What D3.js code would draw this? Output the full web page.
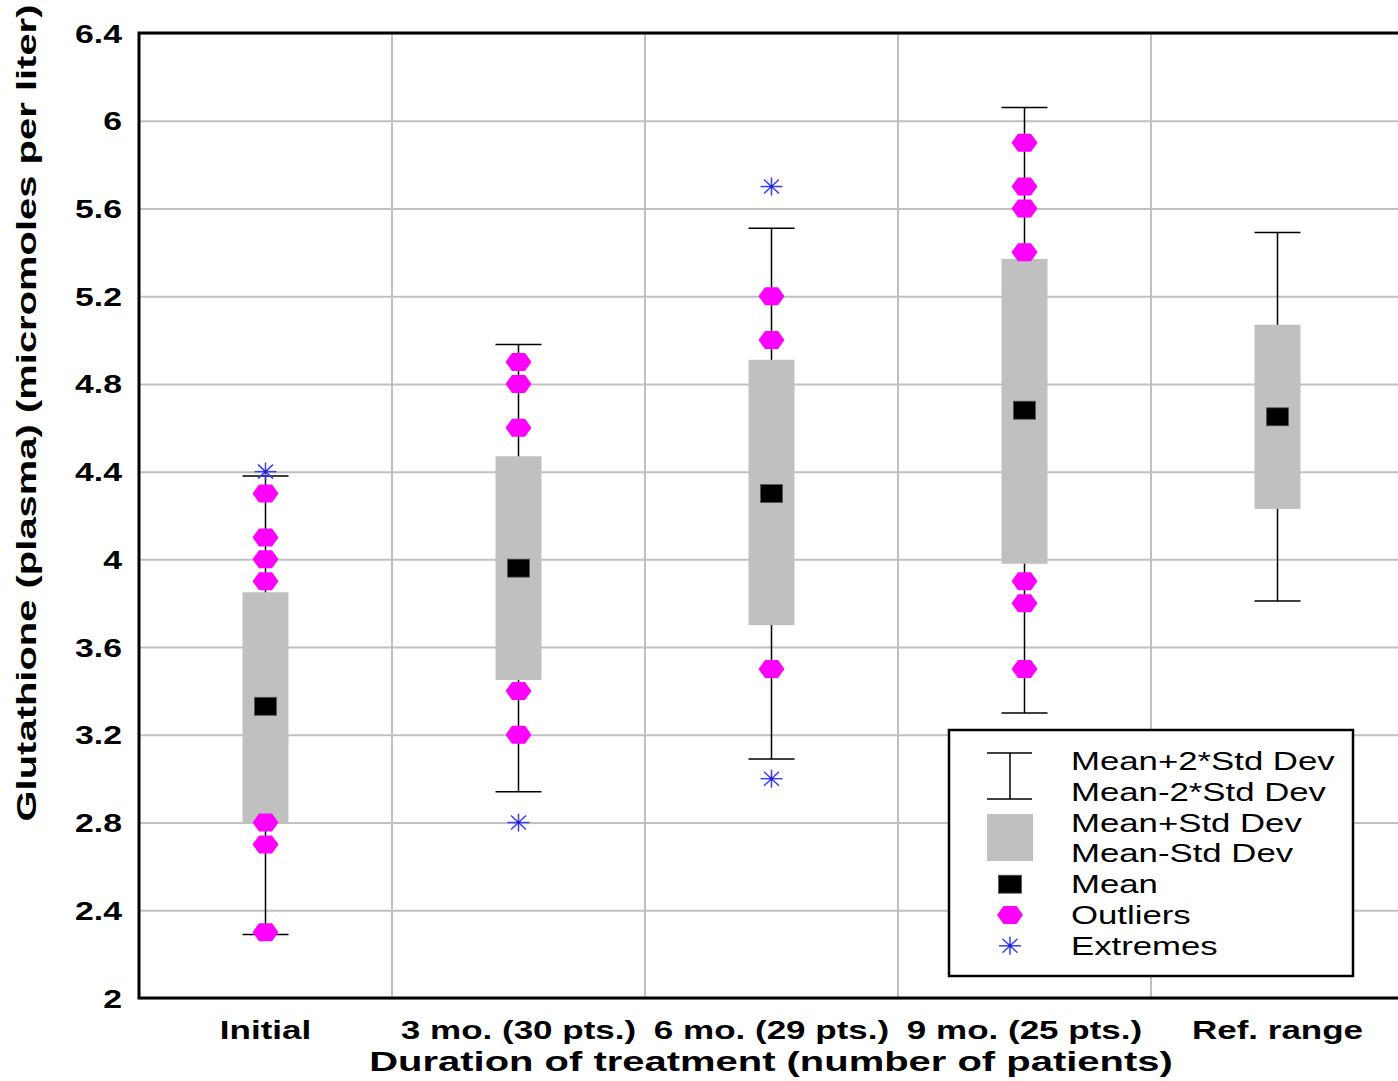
<!DOCTYPE html>
<html>
<head>
<meta charset="utf-8">
<script src="https://cdn.jsdelivr.net/npm/d3@7"></script>
<style>
  body { margin: 0; background: #fff; }
  svg { display: block; font-family: "Liberation Sans", Arial, sans-serif; }
</style>
</head>
<body>
<div id="chart"></div>
<script>
// values
const categories = ["Initial", "3 mo. (30 pts.)", "6 mo. (29 pts.)", "9 mo. (25 pts.)", "Ref. range"];
const means   = [3.33, 3.96, 4.30, 4.68, 4.65];
const sdHigh  = [3.85, 4.47, 4.91, 5.37, 5.07];
const sdLow   = [2.80, 3.45, 3.70, 3.98, 4.23];
const sd2High = [4.38, 4.98, 5.51, 6.06, 5.49];
const sd2Low  = [2.29, 2.94, 3.09, 3.30, 3.81];
const outliers = [
    [4.3, 4.1, 4.0, 3.9, 2.8, 2.7, 2.3],
    [4.9, 4.8, 4.6, 3.4, 3.2],
    [5.2, 5.0, 3.5],
    [5.9, 5.7, 5.6, 5.4, 3.9, 3.8, 3.5],
    []
];
const extremes = [[4.4], [2.8], [5.7, 3.0], [], []];
const yTicks = [2, 2.4, 2.8, 3.2, 3.6, 4, 4.4, 4.8, 5.2, 5.6, 6, 6.4];
const legendLabels = ["Mean+2*Std Dev", "Mean-2*Std Dev", "Mean+Std Dev", "Mean-Std Dev", "Mean", "Outliers", "Extremes"];

const width = 1398, height = 1081;
const margin = { top: 33, right: -6, bottom: 83, left: 139 };
const innerWidth = width - margin.left - margin.right;
const innerHeight = height - margin.top - margin.bottom;

const svg = d3.select("#chart").append("svg")
    .attr("width", width)
    .attr("height", height);

const g = svg.append("g")
    .attr("transform", `translate(${margin.left},${margin.top})`);

const x = d3.scaleBand().domain(categories).range([0, innerWidth]).padding(0);
const y = d3.scaleLinear().domain([2, 6.4]).range([innerHeight, 0]);

const grey = "#c0c0c0";
const boxW = 46;

// gridlines
g.append("g")
    .call(d3.axisLeft(y).tickValues(yTicks).tickSize(-innerWidth).tickFormat(""))
    .call(s => s.select(".domain").remove())
    .selectAll("line")
    .attr("stroke", grey)
    .attr("stroke-width", 2);

g.selectAll(".vgrid")
    .data(categories.slice(1))
    .enter().append("line")
    .attr("class", "vgrid")
    .attr("x1", d => x(d)).attr("x2", d => x(d))
    .attr("y1", 0).attr("y2", innerHeight)
    .attr("stroke", grey)
    .attr("stroke-width", 2);

// frame
g.append("path")
    .attr("d", `M${innerWidth},0H0V${innerHeight}H${innerWidth}`)
    .attr("fill", "none")
    .attr("stroke", "#000")
    .attr("stroke-width", 3);

// y axis labels
g.append("g")
    .call(d3.axisLeft(y).tickValues(yTicks).tickSize(0).tickFormat(d3.format("~g")))
    .call(s => s.select(".domain").remove())
    .selectAll("text")
    .attr("x", 0)
    .attr("dy", "0.36em")
    .attr("transform", "translate(-17,0) scale(1.35,1)")
    .style("font-size", "25px")
    .style("font-weight", "bold")
    .style("fill", "#000");

// x axis labels
g.append("g")
    .attr("transform", `translate(0,${innerHeight})`)
    .call(d3.axisBottom(x).tickSize(0))
    .call(s => s.select(".domain").remove())
    .selectAll("text")
    .attr("y", 41)
    .attr("dy", 0)
    .attr("transform", "scale(1.4,1)")
    .style("font-size", "25px")
    .style("font-weight", "bold")
    .style("fill", "#000");

// axis titles
svg.append("text")
    .attr("transform", `translate(771,1071) scale(1.48,1)`)
    .attr("text-anchor", "middle")
    .style("font-size", "27px")
    .style("font-weight", "bold")
    .text("Duration of treatment (number of patients)");

svg.append("text")
    .attr("transform", `translate(36,413) rotate(-90) scale(1.48,1)`)
    .attr("text-anchor", "middle")
    .style("font-size", "27px")
    .style("font-weight", "bold")
    .text("Glutathione (plasma) (micromoles per liter)");

// symbols
const hexPath = "M-13,0L-6.5,-9L6.5,-9L13,0L6.5,9L-6.5,9Z";
function drawStar(sel, cx, cy) {
    const s = sel.append("g").attr("transform", `translate(${cx},${cy})`)
        .attr("stroke", "#3a3aff").attr("stroke-width", 1.5);
    s.append("line").attr("x1", -11).attr("x2", 11).attr("y1", 0).attr("y2", 0);
    s.append("line").attr("x1", 0).attr("x2", 0).attr("y1", -9).attr("y2", 9);
    s.append("line").attr("x1", -7.5).attr("x2", 7.5).attr("y1", -7).attr("y2", 7);
    s.append("line").attr("x1", -7.5).attr("x2", 7.5).attr("y1", 7).attr("y2", -7);
    s.append("circle").attr("r", 1.8).attr("fill", "#2020cc").attr("stroke", "none");
}

categories.forEach((c, i) => {
    const cx = x(c) + x.bandwidth() / 2;
    const grp = g.append("g");

    grp.append("line")
        .attr("x1", cx).attr("x2", cx)
        .attr("y1", y(sd2High[i])).attr("y2", y(sd2Low[i]))
        .attr("stroke", "#000").attr("stroke-width", 1.5);
    [sd2High[i], sd2Low[i]].forEach(v => {
        grp.append("line")
            .attr("x1", cx - boxW / 2).attr("x2", cx + boxW / 2)
            .attr("y1", y(v)).attr("y2", y(v))
            .attr("stroke", "#000").attr("stroke-width", 1.5);
    });

    grp.append("rect")
        .attr("x", cx - boxW / 2)
        .attr("y", y(sdHigh[i]))
        .attr("width", boxW)
        .attr("height", y(sdLow[i]) - y(sdHigh[i]))
        .attr("fill", grey);

    grp.selectAll(".outlier")
        .data(outliers[i])
        .enter().append("path")
        .attr("class", "outlier")
        .attr("d", hexPath)
        .attr("transform", d => `translate(${cx},${y(d)})`)
        .attr("fill", "#ff00ff");

    extremes[i].forEach(v => drawStar(grp, cx, y(v)));

    grp.append("rect")
        .attr("x", cx - 11)
        .attr("y", y(means[i]) - 9)
        .attr("width", 22)
        .attr("height", 18)
        .attr("fill", "#000")
        .attr("stroke", "#555")
        .attr("stroke-width", 0.8);
});

// legend
const lg = svg.append("g").attr("transform", "translate(949,730)");
lg.append("rect")
    .attr("width", 404).attr("height", 246)
    .attr("fill", "#fff")
    .attr("stroke", "#000").attr("stroke-width", 2.5);

const lx = 61, rowH = 30.8, row0 = 31;
lg.append("line").attr("x1", lx).attr("x2", lx).attr("y1", 23).attr("y2", 69)
    .attr("stroke", "#000").attr("stroke-width", 1.5);
[23, 69].forEach(v => lg.append("line")
    .attr("x1", lx - 23).attr("x2", lx + 22).attr("y1", v).attr("y2", v)
    .attr("stroke", "#000").attr("stroke-width", 1.5));
lg.append("rect").attr("x", lx - 23).attr("y", 84).attr("width", 46).attr("height", 47).attr("fill", grey);
lg.append("rect").attr("x", lx - 11.5).attr("y", row0 + 4 * rowH - 9).attr("width", 23).attr("height", 18)
    .attr("fill", "#000").attr("stroke", "#555").attr("stroke-width", 0.8);
lg.append("path").attr("d", hexPath).attr("transform", `translate(${lx},${row0 + 5 * rowH})`).attr("fill", "#ff00ff");
drawStar(lg, lx, row0 + 6 * rowH);

lg.selectAll(".legend-label")
    .data(legendLabels)
    .enter().append("text")
    .attr("class", "legend-label")
    .attr("transform", (d, i) => `translate(122,${row0 + i * rowH}) scale(1.39,1)`)
    .attr("dy", "0.36em")
    .style("font-size", "25px")
    .text(d => d);
</script>
</body>
</html>
